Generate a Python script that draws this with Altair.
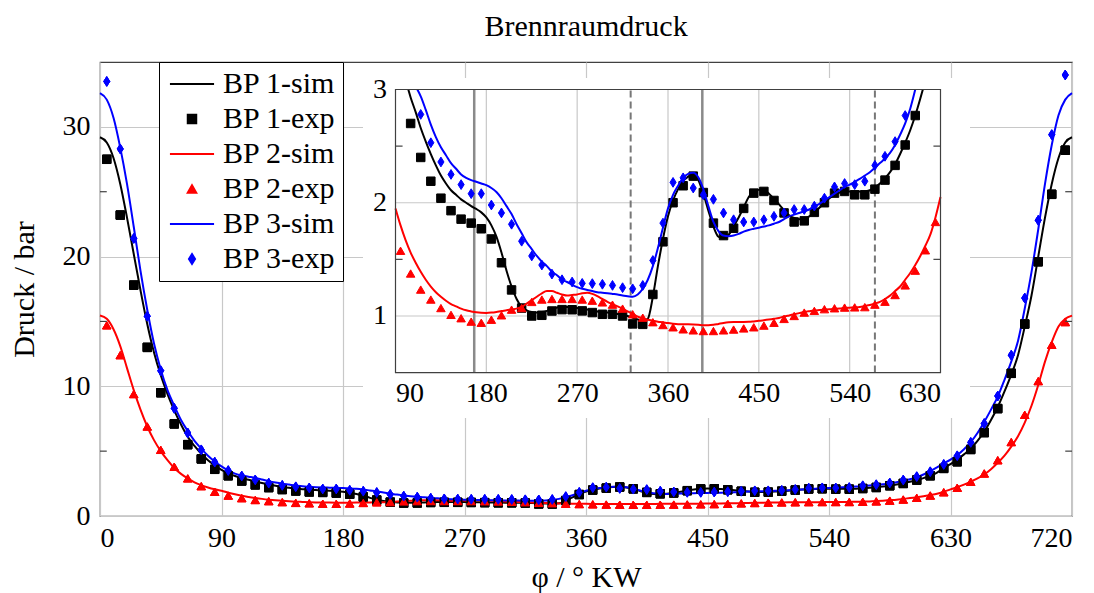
import altair as alt
import pandas as pd

# ---------------- data ----------------
SIM_X = list(range(0, 725, 5))
SIM_BP1 = [29.2, 28.8, 27.6, 25.6, 23.0, 20.2, 17.4, 14.8, 12.6, 10.85,
           9.4, 8.15, 7.05, 6.1, 5.4, 4.8, 4.3, 3.9, 3.55, 3.28,
           3.08, 2.93, 2.80, 2.66, 2.54, 2.43, 2.33, 2.24, 2.17, 2.11,
           2.07, 2.03, 2.0, 1.97, 1.945, 1.915, 1.87, 1.80, 1.70, 1.56,
           1.40, 1.26, 1.15, 1.08, 1.05, 1.035, 1.03, 1.035, 1.045, 1.06,
           1.075, 1.08, 1.08, 1.078, 1.07, 1.065, 1.058, 1.05, 1.04, 1.035,
           1.03, 1.025, 1.018, 1.01, 1.0, 0.985, 0.97, 0.955, 0.975, 1.17,
           1.44, 1.68, 1.88, 2.02, 2.12, 2.19, 2.23, 2.25, 2.2, 2.08,
           1.93, 1.79, 1.70, 1.685, 1.715, 1.79, 1.87, 1.96, 2.05, 2.10,
           2.115, 2.11, 2.08, 2.035, 1.985, 1.935, 1.89, 1.865, 1.855, 1.86,
           1.88, 1.915, 1.955, 2.0, 2.04, 2.07, 2.09, 2.10, 2.10, 2.10,
           2.10, 2.10, 2.11, 2.135, 2.17, 2.215, 2.27, 2.34, 2.43, 2.53,
           2.64, 2.77, 2.92, 3.08, 3.35, 3.7, 4.0, 4.35, 4.75, 5.2,
           5.8, 6.5, 7.4, 8.4, 9.6, 10.9, 12.4, 14.6, 17.0, 20.0,
           23.0, 25.6, 27.6, 28.8, 29.2]
SIM_BP2 = [15.45, 15.2, 14.4, 13.1, 11.4, 9.7, 8.2, 6.9, 5.85, 5.0,
           4.3, 3.7, 3.25, 2.9, 2.6, 2.38, 2.2, 2.06, 1.95, 1.8,
           1.67, 1.56, 1.47, 1.39, 1.32, 1.26, 1.21, 1.17, 1.135, 1.105,
           1.085, 1.065, 1.05, 1.04, 1.032, 1.028, 1.027, 1.03, 1.036, 1.044,
           1.05, 1.058, 1.065, 1.08, 1.11, 1.14, 1.17, 1.20, 1.22, 1.22,
           1.205, 1.19, 1.18, 1.185, 1.19, 1.2, 1.205, 1.195, 1.175, 1.15,
           1.125, 1.105, 1.085, 1.065, 1.04, 1.02, 0.995, 0.98, 0.967, 0.958,
           0.95, 0.944, 0.937, 0.932, 0.928, 0.926, 0.926, 0.925, 0.922, 0.918,
           0.918, 0.922, 0.93, 0.938, 0.944, 0.947, 0.947, 0.947, 0.948, 0.952,
           0.957, 0.962, 0.968, 0.975, 0.983, 0.995, 1.005, 1.015, 1.025, 1.035,
           1.042, 1.048, 1.052, 1.056, 1.06, 1.063, 1.066, 1.07, 1.073, 1.076,
           1.08, 1.088, 1.097, 1.11, 1.125, 1.15, 1.18, 1.22, 1.26, 1.32,
           1.38, 1.45, 1.53, 1.62, 1.72, 1.87, 2.05, 2.22, 2.42, 2.65,
           2.9, 3.2, 3.6, 4.1, 4.65, 5.35, 6.15, 7.2, 8.5, 10.1,
           11.9, 13.4, 14.6, 15.2, 15.45]
SIM_BP3 = [32.6, 32.1, 30.7, 28.4, 25.6, 22.3, 18.9, 15.9, 13.3, 11.3,
           9.7, 8.5, 7.4, 6.55, 5.8, 5.2, 4.65, 4.2, 3.82, 3.5,
           3.27, 3.12, 3.03, 2.94, 2.82, 2.69, 2.58, 2.49, 2.42, 2.35,
           2.30, 2.25, 2.22, 2.20, 2.185, 2.17, 2.155, 2.13, 2.095, 2.04,
           1.97, 1.9, 1.81, 1.73, 1.65, 1.59, 1.53, 1.48, 1.44, 1.39,
           1.36, 1.32, 1.30, 1.275, 1.255, 1.24, 1.23, 1.22, 1.21, 1.205,
           1.2, 1.195, 1.19, 1.18, 1.175, 1.17, 1.19, 1.24, 1.32, 1.44,
           1.6, 1.78, 1.95, 2.07, 2.15, 2.22, 2.255, 2.265, 2.225, 2.12,
           1.97, 1.83, 1.75, 1.71, 1.705, 1.71, 1.725, 1.745, 1.76, 1.77,
           1.78, 1.79, 1.80, 1.815, 1.83, 1.855, 1.88, 1.895, 1.91, 1.925,
           1.94, 1.965, 1.99, 2.02, 2.05, 2.08, 2.11, 2.14, 2.16, 2.185,
           2.21, 2.24, 2.27, 2.31, 2.35, 2.39, 2.44, 2.51, 2.6, 2.7,
           2.83, 3.0, 3.2, 3.45, 3.75, 4.05, 4.35, 4.7, 5.15, 5.7,
           6.4, 7.25, 8.2, 9.2, 10.5, 11.9, 13.5, 16.0, 18.8, 22.1,
           25.6, 28.6, 30.9, 32.1, 32.6]

EXP_X = list(range(5, 720, 10))
EXP_BP1 = [27.5, 23.2, 17.8, 13.0, 9.5, 7.1, 5.5, 4.4, 3.6, 3.1,
           2.70, 2.40, 2.19, 2.04, 1.93, 1.855, 1.82, 1.77, 1.68, 1.47,
           1.23, 1.07, 1.0, 1.006, 1.044, 1.056, 1.055, 1.045, 1.03, 1.015,
           1.015, 1.0, 0.93, 0.926, 1.19, 1.655, 2.0, 2.15, 2.235, 2.09,
           1.82, 1.71, 1.775, 1.95, 2.085, 2.10, 2.02, 1.91, 1.83, 1.84,
           1.915, 2.0, 2.085, 2.10, 2.07, 2.07, 2.12, 2.20, 2.33, 2.51,
           2.77, 3.1, 3.67, 4.18, 5.13, 6.43, 8.28, 11.0, 14.8, 19.6,
           24.8, 28.2]
EXP_BP2 = [14.7, 12.4, 9.4, 6.9, 5.1, 3.8, 2.9, 2.3, 1.87, 1.576,
           1.375, 1.233, 1.145, 1.07, 1.01, 0.98, 0.95, 0.94, 0.967, 1.006,
           1.056, 1.07, 1.124, 1.145, 1.15, 1.15, 1.15, 1.145, 1.135, 1.12,
           1.10, 1.065, 1.015, 0.985, 0.945, 0.92, 0.90, 0.882, 0.873, 0.867,
           0.867, 0.873, 0.88, 0.89, 0.90, 0.915, 0.94, 0.974, 1.0, 1.03,
           1.045, 1.06, 1.068, 1.074, 1.076, 1.078, 1.10, 1.126, 1.185, 1.27,
           1.40, 1.58, 1.83, 2.18, 2.64, 3.28, 4.3, 5.7, 7.8, 10.4,
           13.2, 14.95]
EXP_BP3 = [33.5, 28.3, 21.4, 15.4, 11.2, 8.3, 6.4, 5.1, 4.15, 3.5,
           3.08, 2.78, 2.53, 2.36, 2.25, 2.16, 2.08, 2.08, 1.98, 1.91,
           1.81, 1.66, 1.53, 1.45, 1.37, 1.32, 1.30, 1.288, 1.286, 1.28,
           1.27, 1.25, 1.24, 1.27, 1.49, 1.82, 2.18, 2.22, 2.13, 2.07,
           2.03, 1.91, 1.85, 1.83, 1.83, 1.85, 1.88, 1.91, 1.94, 1.94,
           1.97, 2.04, 2.14, 2.17, 2.16, 2.19, 2.33, 2.41, 2.54, 2.77,
           3.03, 3.41, 3.97, 4.64, 5.67, 7.13, 9.25, 12.4, 16.8, 22.8,
           29.4, 34.0]

LABELS = ["BP 1-sim", "BP 1-exp", "BP 2-sim", "BP 2-exp", "BP 3-sim", "BP 3-exp"]

MAIN_X_TICKS = list(range(0, 721, 90))
MAIN_Y_TICKS = [0, 10, 20, 30]
MAIN_Y_MINOR = [5, 15, 25]
INSET_X_TICKS = list(range(90, 631, 90))
INSET_Y_TICKS = [1, 2, 3]
INSET_Y_MINOR = [1.5, 2.5]
VALVE_SOLID = [168, 394]
VALVE_DASHED = [323, 565]

assert len(SIM_X) == len(SIM_BP1) == len(SIM_BP2) == len(SIM_BP3)
assert len(EXP_X) == len(EXP_BP1) == len(EXP_BP2) == len(EXP_BP3)

# ---------------- styles / layout ----------------
FONT = "Liberation Serif"
COLORS = ["#000000", "#000000", "#ff0000", "#ff0000", "#0000ff", "#0000ff"]
LINE_SYMBOL = "M-5.2,0H5.2"
DIAMOND = "M0,-1.15L0.72,0L0,1.15L-0.72,0Z"
SHAPES = [LINE_SYMBOL, "square", LINE_SYMBOL, "triangle-up", LINE_SYMBOL, DIAMOND]
GRID = "#c8c8c8"
FRAME = "#404040"
W, H = 972, 454
INSET_RANGE_X = [295.5, 840.5]
INSET_RANGE_Y = [310.6, 27.5]

SIMS = [SIM_BP1, SIM_BP2, SIM_BP3]
EXPS = [EXP_BP1, EXP_BP2, EXP_BP3]


def color_scale():
    return alt.Scale(domain=LABELS, range=COLORS)


def shape_scale():
    return alt.Scale(domain=LABELS, range=SHAPES)


def xs_main():
    return alt.Scale(domain=[0, 720], range=[0, W], nice=False, zero=False)


def ys_main():
    return alt.Scale(domain=[0, 35], range=[H, 0], nice=False, zero=False)


def xs_in():
    return alt.Scale(domain=[90, 630], range=INSET_RANGE_X, nice=False, zero=False)


def ys_in():
    return alt.Scale(domain=[0.5, 3], range=INSET_RANGE_Y, nice=False, zero=False)


ax_main_x = alt.Axis(values=MAIN_X_TICKS, title="φ / ° KW", grid=True, labelPadding=8,
                     titleX=486, titleY=70, titleBaseline="alphabetic", titleAlign="center",
                     titleFontSize=30, orient="bottom")
ax_main_y = alt.Axis(values=MAIN_Y_TICKS, title="Druck / bar", grid=True, labelPadding=10,
                     titleX=-67, titleY=227, titleBaseline="alphabetic", titleAlign="center",
                     titleFontSize=30, orient="left")
ax_in_x = alt.Axis(values=INSET_X_TICKS, orient="bottom", offset=-(H - INSET_RANGE_Y[0]),
                   grid=False, labelPadding=7, title=None, zindex=2)
ax_in_y = alt.Axis(values=INSET_Y_TICKS, orient="left", offset=-INSET_RANGE_X[0],
                   grid=False, labelPadding=9, title=None, zindex=2)


def legend_def():
    return alt.Legend(title=None, orient="none", legendX=59, legendY=0, padding=7,
                      rowPadding=5, symbolOffset=11, labelOffset=16, labelFont=FONT,
                      labelFontSize=30, labelColor="black", symbolSize=72,
                      symbolStrokeWidth=2, symbolOpacity=1, strokeColor="black",
                      fillColor="white", zindex=1, labelLimit=400, cornerRadius=0)


def sim_df(i, xs, ys):
    return pd.DataFrame({"x": xs, "p": ys, "label": LABELS[2 * i]})


def exp_df(i, xs, ys):
    return pd.DataFrame({"x": xs, "p": ys, "label": LABELS[2 * i + 1]})


def clip_polyline(xs, ys, x0, x1, ylo, yhi):
    """Cut a polyline to the inset window (boundary crossings added)."""
    pts = [(x, y) for x, y in zip(xs, ys) if x0 <= x <= x1]
    out = []
    for k, (x, y) in enumerate(pts):
        inside = ylo <= y <= yhi
        if k > 0:
            xp, yp = pts[k - 1]
            pin = ylo <= yp <= yhi
            if pin != inside:
                yb = yhi if (y > yhi or yp > yhi) else ylo
                t = (yb - yp) / (y - yp)
                out.append((xp + t * (x - xp), yb))
        if inside:
            out.append((x, y))
    return [p[0] for p in out], [p[1] for p in out]


def points_layer(df, xs, ys):
    return alt.Chart(df).mark_point(filled=True, size=72, opacity=1, strokeWidth=1).encode(
        x=alt.X("x:Q", scale=xs, axis=None),
        y=alt.Y("p:Q", scale=ys, axis=None),
        fill=alt.Fill("label:N", scale=color_scale(), legend=legend_def()),
        stroke=alt.Stroke("label:N", scale=color_scale(), legend=legend_def()),
        shape=alt.Shape("label:N", scale=shape_scale(), legend=legend_def()),
    )


def line_layer(df, xs, ys, xaxis=None, yaxis=None):
    return alt.Chart(df).mark_line(strokeWidth=2, interpolate="monotone").encode(
        x=alt.X("x:Q", scale=xs, axis=xaxis),
        y=alt.Y("p:Q", scale=ys, axis=yaxis),
        stroke=alt.Stroke("label:N", scale=color_scale(), legend=legend_def()),
    )


layers = []

# ---------------- main chart ----------------
# the first exp layer comes first so that the legend takes its symbol style
for i in range(3):
    layers.append(points_layer(exp_df(i, EXP_X, EXPS[i]), xs_main(), ys_main()))
    layers.append(line_layer(sim_df(i, SIM_X, SIMS[i]), xs_main(), ys_main(),
                             ax_main_x if i == 0 else None, ax_main_y if i == 0 else None))
# redraw points so they lie over their own line (pgfplots order)
for i in range(3):
    layers.append(points_layer(exp_df(i, EXP_X, EXPS[i]), xs_main(), ys_main()))

minor = pd.DataFrame({"m": MAIN_Y_MINOR})
for x_a, x_b in [(0, 5), (715, 720)]:
    layers.append(
        alt.Chart(minor).mark_rule(color=FRAME, strokeWidth=1.2).encode(
            y=alt.Y("m:Q", scale=ys_main(), axis=None),
            x=alt.XDatum(x_a, scale=xs_main(), axis=None),
            x2=alt.X2Datum(x_b),
        )
    )

# ---------------- inset ----------------
one = pd.DataFrame({"a": [0]})
layers += [
    alt.Chart(one).mark_rect(fill="white").encode(
        x=alt.value(263), x2=alt.value(870), y=alt.value(16), y2=alt.value(356)
    ),
    alt.Chart(pd.DataFrame({"g": INSET_X_TICKS[1:-1]})).mark_rule(color=GRID, strokeWidth=1.2).encode(
        x=alt.X("g:Q", scale=xs_in(), axis=ax_in_x),
        y=alt.YDatum(0.5, scale=ys_in(), axis=None),
        y2=alt.Y2Datum(3),
    ),
    alt.Chart(pd.DataFrame({"g": INSET_Y_TICKS[:-1]})).mark_rule(color=GRID, strokeWidth=1.2).encode(
        y=alt.Y("g:Q", scale=ys_in(), axis=ax_in_y),
        x=alt.XDatum(90, scale=xs_in(), axis=None),
        x2=alt.X2Datum(630),
    ),
    alt.Chart(pd.DataFrame({"v": VALVE_SOLID})).mark_rule(color="#8a8a8a", strokeWidth=2.5).encode(
        x=alt.X("v:Q", scale=xs_in(), axis=None),
        y=alt.YDatum(0.5, scale=ys_in(), axis=None),
        y2=alt.Y2Datum(3),
    ),
    alt.Chart(pd.DataFrame({"v": VALVE_DASHED})).mark_rule(color="#777777", strokeWidth=2,
                                                           strokeDash=[7, 4]).encode(
        x=alt.X("v:Q", scale=xs_in(), axis=None),
        y=alt.YDatum(0.5, scale=ys_in(), axis=None),
        y2=alt.Y2Datum(3),
    ),
]
for i in range(3):
    cx, cy = clip_polyline(SIM_X, SIMS[i], 90, 630, 0.5, 3.0)
    layers.append(line_layer(sim_df(i, cx, cy), xs_in(), ys_in()))
    ex = [(x, y) for x, y in zip(EXP_X, EXPS[i]) if 90 <= x <= 630 and 0.5 <= y <= 3.0]
    layers.append(points_layer(exp_df(i, [e[0] for e in ex], [e[1] for e in ex]), xs_in(), ys_in()))

iminor = pd.DataFrame({"m": INSET_Y_MINOR})
for x_a, x_b in [(90, 97), (623, 630)]:
    layers.append(
        alt.Chart(iminor).mark_rule(color=FRAME, strokeWidth=1.2).encode(
            y=alt.Y("m:Q", scale=ys_in(), axis=None),
            x=alt.XDatum(x_a, scale=xs_in(), axis=None),
            x2=alt.X2Datum(x_b),
        )
    )
layers.append(
    alt.Chart(one).mark_rect(fill="transparent", stroke=FRAME, strokeWidth=1.2).encode(
        x=alt.XDatum(90, scale=xs_in(), axis=None),
        x2=alt.X2Datum(630),
        y=alt.YDatum(0.5, scale=ys_in(), axis=None),
        y2=alt.Y2Datum(3),
    )
)

chart = (
    alt.layer(*layers)
    .resolve_scale(x="independent", y="independent")
    .properties(
        width=W,
        height=H,
        title=alt.TitleParams("Brennraumdruck", font=FONT, fontSize=30, fontWeight="normal",
                              anchor="middle", frame="group", offset=26, dy=30,
                              baseline="alphabetic", color="black"),
        padding={"left": 100, "top": 62, "right": 22, "bottom": 77},
        autosize=alt.AutoSizeParams(type="none"),
        background="white",
    )
    .configure_view(stroke=FRAME, strokeWidth=1.2)
    .configure_axis(labelFont=FONT, titleFont=FONT, labelFontSize=28, titleFontSize=30,
                    labelColor="black", titleColor="black", titleFontWeight="normal",
                    gridColor=GRID, gridWidth=1.2, ticks=False, domain=False)
)

chart.save("out.html", embed_options={"renderer": "svg", "actions": False})
